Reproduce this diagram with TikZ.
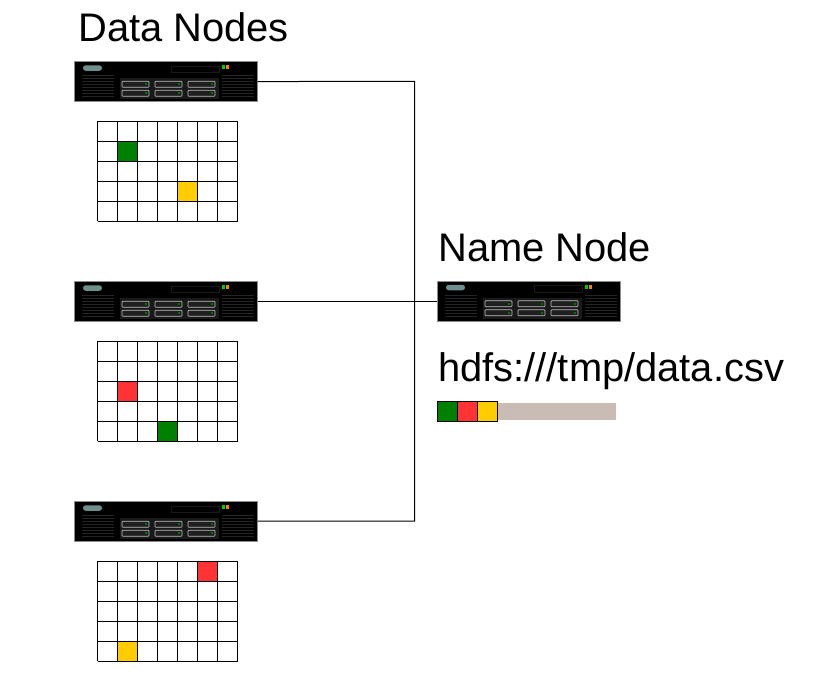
\documentclass[tikz,border=0pt]{standalone}
\usepackage{fontspec}
\setmainfont{Liberation Sans}
\definecolor{blockgreen}{HTML}{008000}
\definecolor{blockred}{HTML}{FF3333}
\definecolor{blockyellow}{HTML}{FFCC00}
\definecolor{restgray}{HTML}{C8BCB5}
\definecolor{ovalgray}{HTML}{6F8F8C}
\tikzset{
  x=0.75pt,y=-0.75pt,
  title/.style={anchor=base west,inner sep=0pt,font=\fontsize{29.9}{30}\selectfont},
  serverbox/.style={draw=black!45!white,line width=0.4pt,fill=black,minimum width=137.25pt,minimum height=30pt,inner sep=0pt,anchor=north west},
  wire/.style={draw=black,line width=0.75pt},
  gridline/.style={draw=black,line width=0.75pt},
  cell/.style={draw=black,line width=0.75pt},
  drive/.style={draw=black!25!white,line width=0.5pt,fill=black!88!white,rounded corners=0.6pt},
  ventline/.style={draw=black!86!white,line width=0.45pt},
  server/.pic={
    \fill[black!90!white] (46,17) rectangle (145,38);
    \fill[ovalgray,rounded corners=2pt] (9,4) rectangle (28,9.5);
    \draw[black!90!white,line width=0.4pt] (97,4.5) rectangle (145,11);
    \fill[green!80!black] (148,4) rectangle (150.5,8);
    \fill[orange] (152,4) rectangle (154.5,8);
    \foreach \vy in {14,17,...,37}{
      \draw[ventline] (8,\vy) -- (40,\vy);
      \draw[ventline] (148,\vy) -- (180,\vy);
    }
    \foreach \dx in {48,81,114}{
      \foreach \dy in {20,29}{
        \draw[drive] (\dx,\dy) rectangle ++(27,6);
        \fill[green!45!black] (\dx+23,\dy+2) rectangle ++(1.5,2);
      }
    }
  }
}
\begin{document}
\begin{tikzpicture}
\useasboundingbox (0,0) rectangle (834,693);

\node[title] (datatitle) at (78,41) {Data Nodes};
\node[title] (nametitle) at (438,261) {Name Node};
\node[title] (pathtitle) at (438,381) {hdfs:///tmp/data.csv};

% servers
\node[serverbox] (dn1) at (74,61.3) {};
\node[serverbox] (dn2) at (74,281.3) {};
\node[serverbox] (dn3) at (74,501.3) {};
\node[serverbox] (nn) at (437,280.8) {};
\pic at (74,61.3) {server};
\pic at (74,281.3) {server};
\pic at (74,501.3) {server};
\pic at (437,280.8) {server};

% connectors
\coordinate (bustop) at (414.5,81.3);
\coordinate (busbot) at (414.5,521);
\draw[wire] (dn1.east) -- (bustop) -- (busbot) -- (dn3.east |- busbot);
\draw[wire] (dn2.east) -- (nn.west |- dn2.east);

% block grids
\foreach \gy in {121,341,561}{
  \draw[gridline,shift={(97.5,\gy)}] (0,0) grid[xstep=20,ystep=-20] (140,100);
}
\draw[cell,fill=blockgreen] (117.5,141) rectangle ++(20,20);
\draw[cell,fill=blockyellow] (177.5,181) rectangle ++(20,20);
\draw[cell,fill=blockred] (117.5,381) rectangle ++(20,20);
\draw[cell,fill=blockgreen] (157.5,421) rectangle ++(20,20);
\draw[cell,fill=blockred] (197.5,561) rectangle ++(20,20);
\draw[cell,fill=blockyellow] (117.5,641) rectangle ++(20,20);

% file bar
\fill[restgray] (498,403) rectangle (616,420);
\draw[cell,fill=blockgreen] (437,401) rectangle ++(20,20);
\draw[cell,fill=blockred] (457,401) rectangle ++(20,20);
\draw[cell,fill=blockyellow] (477,401) rectangle ++(20,20);
\end{tikzpicture}
\end{document}
